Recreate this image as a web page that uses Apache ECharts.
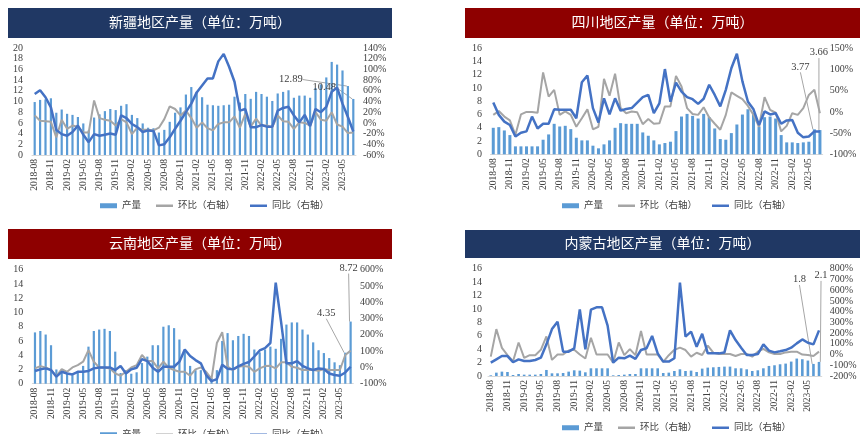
<!DOCTYPE html>
<html><head><meta charset="utf-8">
<script src="https://cdn.jsdelivr.net/npm/echarts@6/dist/echarts.min.js"></script>
<style>html,body{margin:0;padding:0;background:#fff}#c{width:868px;height:434px}</style>
</head><body><div id="c"></div>
<script>
const months = ['2018-08','2018-09','2018-10','2018-11','2018-12',
'2019-01','2019-02','2019-03','2019-04','2019-05','2019-06','2019-07','2019-08','2019-09','2019-10','2019-11','2019-12',
'2020-01','2020-02','2020-03','2020-04','2020-05','2020-06','2020-07','2020-08','2020-09','2020-10','2020-11','2020-12',
'2021-01','2021-02','2021-03','2021-04','2021-05','2021-06','2021-07','2021-08','2021-09','2021-10','2021-11','2021-12',
'2022-01','2022-02','2022-03','2022-04','2022-05','2022-06','2022-07','2022-08','2022-09','2022-10','2022-11','2022-12',
'2023-01','2023-02','2023-03','2023-04','2023-05','2023-06','2023-07'];

// 新疆
const xjOutput = [9.9,10.3,10.4,10.6,7.9,8.5,7.7,7.5,7.1,5.9,4.6,7.0,7.6,8.2,8.6,8.4,9.2,9.5,7.5,6.9,5.9,5.1,5.0,4.2,4.7,6.2,7.9,8.9,11.3,12.7,11.8,10.8,9.4,9.3,9.2,9.3,9.4,10.9,9.8,11.4,10.5,11.8,11.4,10.9,10.1,11.5,11.8,12.1,10.7,11.1,11.1,10.7,12.5,13.2,14.5,17.4,16.9,15.8,12.89,10.48];
const xjMoM = [14,4,3,2,-27,6,-11,-5,-7,-18,-18,42,9,6,4,-5,7,1,-21,-9,-13,-13,-14,-9,7,31,26,14,23,9,-9,1,-10,-14,-2,1,1,12,-9,17,-7,8,-5,-5,-8,14,3,2,-11,1,0,-5,20,6,4,20,-3,-7,-19,-18];
const xjYoY = [54,61,48,29,-13,-21,-24,-17,-5,-22,-36,-21,-24,-22,-20,-22,14,9,-2,-8,-17,-14,-15,-42,-40,-27,-11,4,20,36,57,70,83,83,115,129,105,77,23,26,-8,-8,-4,-7,-7,23,28,30,14,1,15,-6,26,20,30,58,66,36,11,-16];

// 四川
const scOutput = [4.0,4.1,3.6,2.9,1.2,1.2,1.2,1.2,1.2,2.2,3.0,4.6,4.2,4.3,3.8,2.5,2.1,2.1,1.3,0.9,1.5,2.1,4.0,4.7,4.6,4.6,4.6,3.3,2.8,2.1,1.5,1.7,1.9,3.5,5.7,6.1,5.8,5.4,6.1,5.6,3.9,2.3,2.2,3.2,4.5,6.0,6.8,6.2,4.2,5.6,5.7,5.4,2.9,1.8,1.8,1.7,1.8,1.9,3.77,3.66];
const scMoM = [-7,2,-11,-20,-54,-6,0,0,-2,93,36,52,-7,1,-7,-35,-15,6,-41,-35,78,38,90,9,-3,1,-1,-29,-17,-28,-27,13,13,85,60,9,-5,-7,11,-13,-28,-42,-7,46,38,30,14,-7,-35,35,5,-2,-46,-33,-3,-7,9,40,52,-3];
const scYoY = [22,-7,-23,-31,-58,-49,-46,-11,-39,-28,-28,6,5,5,5,-15,70,86,9,-25,32,-6,32,3,7,9,22,35,40,-3,20,101,24,69,48,35,30,19,31,64,40,13,52,103,137,72,24,6,-31,1,-6,-3,-28,-20,-19,-49,-60,-58,-46,-46];

// 云南
const ynOutput = [7.2,7.4,6.9,5.4,2.0,1.7,1.5,1.2,1.8,2.5,5.2,7.4,7.6,7.7,7.4,4.5,1.5,1.9,1.4,1.6,2.9,3.8,5.4,5.4,8.0,8.2,7.8,6.2,4.5,2.5,1.9,1.9,1.4,0.8,1.9,6.0,7.1,6.1,6.7,7.0,6.7,4.8,4.4,4.8,5.2,4.9,6.3,8.3,8.6,8.6,7.6,6.9,5.8,4.7,4.3,3.6,3.0,2.6,4.35,8.72];
const ynMoM = [-6,8,0,-16,-53,-10,-27,0,14,35,106,35,0,0,-6,-37,-51,-27,0,14,76,39,39,-6,35,-2,-16,-27,-27,-51,-12,0,-27,-70,150,216,5,-16,4,8,4,-27,-6,8,10,-6,31,31,4,-2,-16,-16,-16,-20,-10,-16,-16,-16,76,103];
const ynYoY = [-22,-12,-6,-16,-57,-27,-37,-43,-27,-27,-22,-6,0,0,0,-16,8,-37,-12,-2,51,39,-2,-27,4,4,4,35,110,70,45,25,-47,-84,-72,16,-8,-12,6,22,33,67,104,119,150,520,280,25,25,39,10,-6,-16,-6,-10,-37,-47,-51,-31,4];

// 内蒙古
const nmOutput = [0.1,0.5,0.65,0.6,0.15,0.3,0.2,0.2,0.2,0.3,0.9,0.4,0.4,0.45,0.65,0.85,0.8,0.55,1.15,1.15,1.15,1.15,0.1,0.15,0.2,0.3,0.3,1.15,1.15,1.15,1.15,0.45,0.5,0.75,1.0,0.75,0.8,0.6,1.1,1.25,1.3,1.35,1.4,1.4,1.15,1.15,1.0,0.75,0.85,1.15,1.5,1.6,1.75,1.85,2.15,2.6,2.5,2.3,1.8,2.1];
const nmMoM = [-19,237,62,-6,-62,112,-31,-6,-6,44,169,-50,0,0,38,44,0,-37,156,0,0,0,-75,112,-6,50,-6,219,0,0,0,-69,-6,44,64,42,-20,17,-4,83,17,5,5,5,-14,5,5,-20,27,52,20,5,5,20,27,27,0,-4,-14,27];
const nmYoY = [-76,-45,-14,-14,-72,-45,-60,-60,-51,-29,95,237,306,27,27,58,421,48,419,440,440,270,-76,-29,-35,-10,-41,42,58,173,11,-66,-66,-35,670,167,213,73,194,11,11,11,20,225,135,64,-4,-4,5,95,36,20,30,42,64,104,141,110,95,225];

const legendNames = ['产量','环比（右轴）','同比（右轴）'];
const titles = ['新疆地区产量（单位：万吨）','四川地区产量（单位：万吨）','云南地区产量（单位：万吨）','内蒙古地区产量（单位：万吨）'];

const NAVY = '#203864', RED = '#8e0000';
const SERIF = '"Liberation Serif","Times New Roman",serif';
const LINE_ICON = 'path://M0,0H34V5H0Z';
const panels = [
  {band:[8,8,384,30], color:NAVY, grid:{left:32,top:48,width:324,height:107}, lmax:20,
   rmin:-60, rmax:140, rint:20, out:xjOutput, mom:xjMoM, yoy:xjYoY, bw:2.2,
   labels:{58:[-57,2],59:[-29,-3]}, leg:[95,196], lm:[9,7]},
  {band:[465,8,395,30], color:RED, grid:{left:490.5,top:48.3,width:332.2,height:106}, lmax:16,
   rmin:-100, rmax:150, rint:50, out:scOutput, mom:scMoM, yoy:scYoY, bw:3,
   labels:{58:[-14,-54],59:[-1,-69]}, leg:[557,196], lm:[8.5,7]},
  {band:[8,229,384,30], color:RED, grid:{left:32.3,top:269.7,width:321,height:114}, lmax:16,
   rmin:-100, rmax:600, rint:100, out:ynOutput, mom:ynMoM, yoy:ynYoY, bw:2.2,
   labels:{58:[-19,-31],59:[-2,-45]}, leg:[95,425], lm:[9,6.6]},
  {band:[465,230,395,28], color:NAVY, grid:{left:488,top:268.7,width:333.8,height:107.3}, lmax:16,
   rmin:-200, rmax:800, rint:100, out:nmOutput, mom:nmMoM, yoy:nmYoY, bw:2.6,
   labels:{58:[-14,-76],59:[2,-78]}, leg:[557,418], lm:[6,8]}
];

const option = {animation:false, grid:[], xAxis:[], yAxis:[], series:[], legend:[], title:[], graphic:[]};
const axisLabelBase = {fontFamily:SERIF, fontSize:10, color:'#404040'};

panels.forEach((p, i) => {
  option.graphic.push({type:'rect', shape:{x:p.band[0], y:p.band[1], width:p.band[2], height:p.band[3]}, style:{fill:p.color}, z:-1});
  option.title.push({text:titles[i], left:p.band[0] + p.band[2]/2, top:p.band[1] + p.band[3]/2 - 8, textAlign:'center', padding:0,
    textStyle:{color:'#fff', fontSize:14, fontWeight:'normal', fontFamily:'"Noto Sans CJK SC",sans-serif'}});
  option.grid.push(p.grid);
  option.xAxis.push({type:'category', gridIndex:i, data:months, boundaryGap:true,
    axisLine:{show:true, lineStyle:{color:'#d9d9d9', width:1}}, axisTick:{show:false},
    axisLabel:Object.assign({}, axisLabelBase, {interval:2, rotate:90, fontSize:9.5, margin:4})});
  option.yAxis.push({type:'value', gridIndex:i, position:'left', min:0, max:p.lmax, interval:2,
    axisLine:{show:false}, axisTick:{show:false}, splitLine:{show:false},
    axisLabel:Object.assign({}, axisLabelBase, {margin:p.lm[0]})});
  option.yAxis.push({type:'value', gridIndex:i, position:'right', min:p.rmin, max:p.rmax, interval:p.rint,
    axisLine:{show:false}, axisTick:{show:false}, splitLine:{show:false},
    axisLabel:Object.assign({}, axisLabelBase, {margin:p.lm[1], formatter:'{value}%'})});
  const lastIdx = p.out.length - 2;
  option.series.push({type:'bar', name:legendNames[0], xAxisIndex:i, yAxisIndex:2*i, barWidth:p.bw,
    itemStyle:{color:'#5b9bd5'},
    label:{show:false, position:'top', distance:3, fontFamily:SERIF, fontSize:10.5, color:'#404040'},
    labelLine:{show:true, lineStyle:{color:'#a6a6a6', width:1}},
    labelLayout:(params) => { const o = p.labels[params.dataIndex]; return o ? {dx:o[0], dy:o[1]} : {}; },
    data:p.out.map((v, k) => k >= lastIdx ? {value:v, label:{show:true}} : v)});
  option.series.push({type:'line', name:legendNames[1], xAxisIndex:i, yAxisIndex:2*i+1, symbol:'none',
    lineStyle:{color:'#a5a5a5', width:2}, itemStyle:{color:'#a5a5a5'}, data:p.mom});
  option.series.push({type:'line', name:legendNames[2], xAxisIndex:i, yAxisIndex:2*i+1, symbol:'none',
    lineStyle:{color:'#4472c4', width:2.5}, itemStyle:{color:'#4472c4'}, data:p.yoy});
  option.legend.push({left:p.leg[0], top:p.leg[1], itemWidth:17, itemHeight:5, itemGap:15,
    data:[{name:legendNames[0], icon:'rect'}, {name:legendNames[1], icon:LINE_ICON}, {name:legendNames[2], icon:LINE_ICON}],
    textStyle:{fontFamily:'"Liberation Serif","Noto Sans CJK SC",serif', fontSize:9.5, color:'#404040'}});
});

const chart = echarts.init(document.getElementById('c'));
chart.setOption(option);
</script></body></html>
